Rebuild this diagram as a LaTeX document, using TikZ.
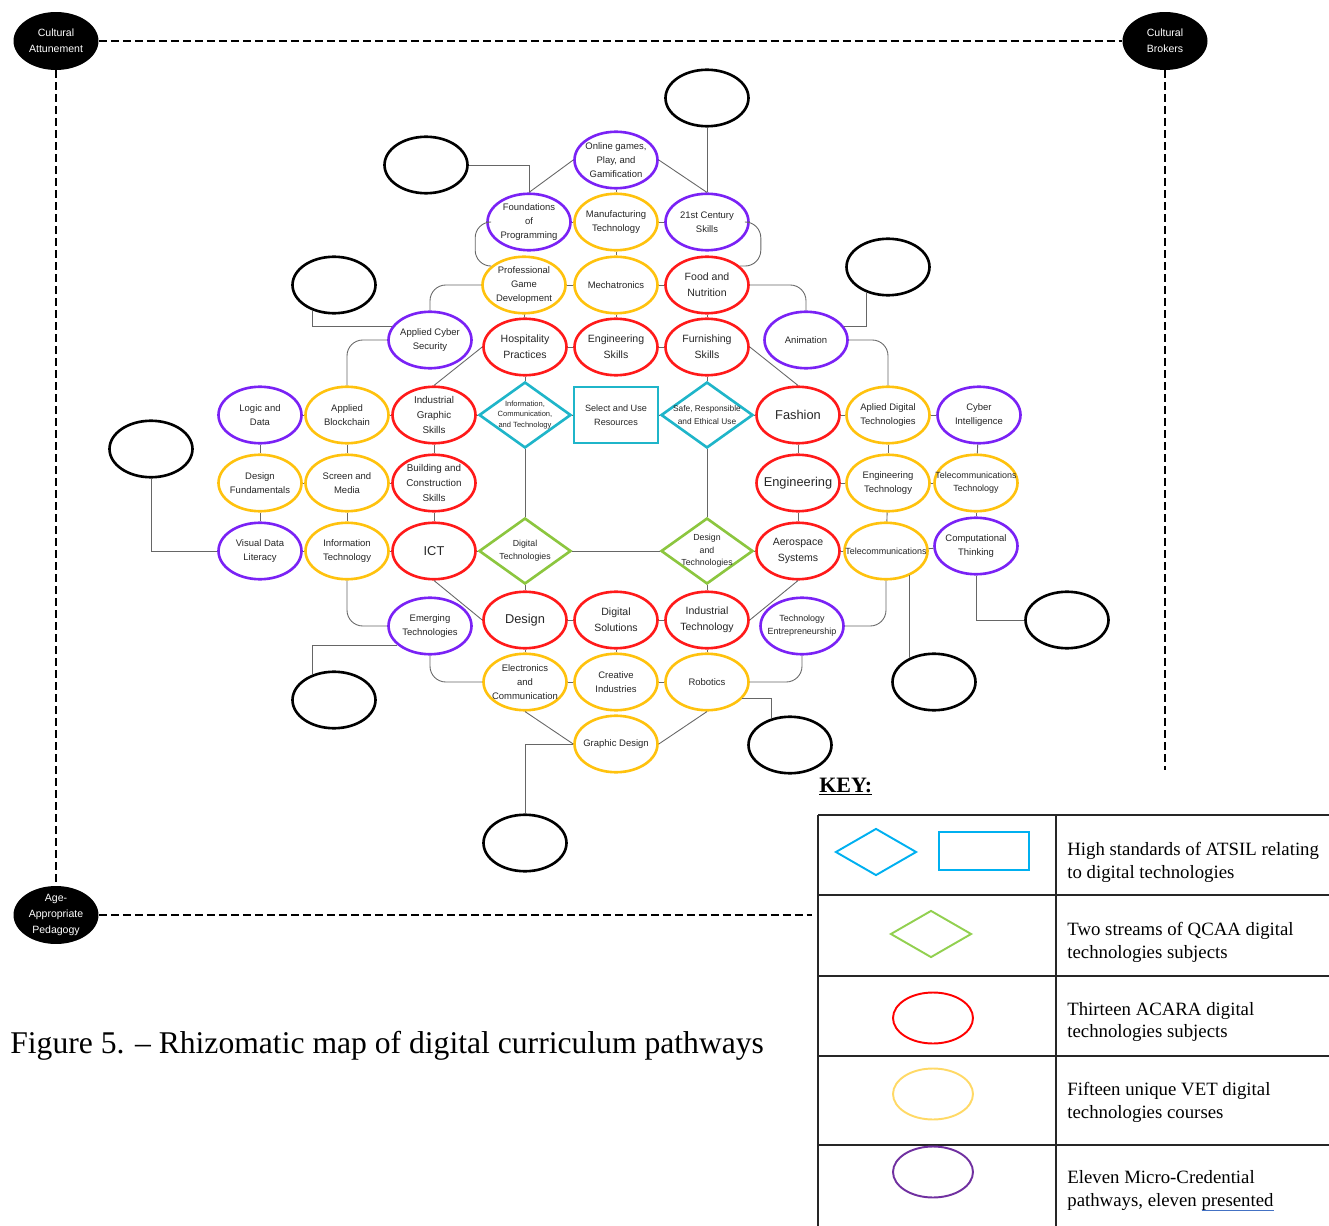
\documentclass[tikz,border=0pt]{standalone}
\usepackage{fontspec}
\setmainfont{Liberation Serif}
\setsansfont{Liberation Sans}
\usepackage{calc}
\usetikzlibrary{shapes.geometric}
\definecolor{acara}{HTML}{FF1A1A}
\definecolor{vet}{HTML}{FFC20E}
\definecolor{micro}{HTML}{7A22F5}
\definecolor{atsil}{HTML}{1FB5C9}
\definecolor{qcaa}{HTML}{8CC63F}
\definecolor{katsil}{HTML}{00B0F0}
\definecolor{kqcaa}{HTML}{92D050}
\definecolor{kacara}{HTML}{FF0000}
\definecolor{kvet}{HTML}{FFD966}
\definecolor{kmicro}{HTML}{7030A0}
\definecolor{ulblue}{HTML}{4472C4}

\begin{document}
\begin{tikzpicture}[x=0.02cm, y=-0.02cm,
	pw/.style={ellipse, draw=#1, line width=1.5pt, minimum width=1.66cm, minimum height=1.13cm, inner sep=-1cm, align=center, text=black!85, font=\sffamily\fontsize{5.4}{7.8}\selectfont},
	sj/.style={pw=acara, font=\sffamily\fontsize{6}{9}\selectfont},
	bigtxt/.style={font=\sffamily\fontsize{7.3}{9}\selectfont},
	smalltxt/.style={font=\sffamily\fontsize{5.1}{7.6}\selectfont},
	hub/.style={diamond, draw=#1, line width=1.5pt, minimum width=1.84cm, minimum height=1.32cm, inner sep=-1cm, align=center, text=black!85, font=\sffamily\fontsize{5}{7.2}\selectfont},
	blank/.style={pw=black},
	ink/.style={ellipse, fill=black, text=white, minimum width=1.7cm, minimum height=1.16cm, inner sep=-1cm, align=center, font=\sffamily\fontsize{6}{9}\selectfont},
	lk/.style={draw=black!60, line width=0.5pt},
	rlk/.style={lk, rounded corners=9pt},
	fence/.style={line width=1.1pt, dash pattern=on 0.16cm off 0.08cm},
	keyshape/.style={line width=1.1pt, inner sep=-1cm},
	keytxt/.style={anchor=west, inner sep=0pt, align=left, font=\fontsize{10.7}{13}\selectfont}]
	\useasboundingbox (0,0) rectangle (1329,1226);
	
	% frame
	\node[ink] (ca) at (56,41) {Cultural\\Attunement};
	\node[ink] (cb) at (1165,41) {Cultural\\Brokers};
	\node[ink] (app) at (56,915) {Age-\\Appropriate\\Pedagogy};
	\coordinate (cbend) at (1165,770);
	\coordinate (ppend) at (812,915);
	\draw[fence] (ca) -- (cb);
	\draw[fence] (ca) -- (app);
	\draw[fence] (app) -- (ppend);
	\draw[fence] (cb) -- (cbend);
	
	\node[pw=micro] (ogp) at (616,160) {Online games,\\Play, and\\Gamification};
	\node[pw=micro] (fop) at (529,222) {Foundations\\of\\Programming};
	\node[pw=vet] (mft) at (616,222) {Manufacturing\\Technology};
	\node[pw=micro] (c21) at (707,222) {21st Century\\Skills};
	\node[pw=vet] (pgd) at (524,285) {Professional\\Game\\Development};
	\node[pw=vet] (mech) at (616,285) {Mechatronics};
	\node[sj] (fn) at (707,285) {Food and\\Nutrition};
	\node[pw=micro] (acs) at (430,340) {Applied Cyber\\Security};
	\node[sj] (hp) at (525,347) {Hospitality\\Practices};
	\node[sj] (es) at (616,347) {Engineering\\Skills};
	\node[sj] (fs) at (707,347) {Furnishing\\Skills};
	\node[pw=micro] (anim) at (806,340) {Animation};
	
	\node[pw=micro] (lad) at (260,415) {Logic and\\Data};
	\node[pw=vet] (ab) at (347,415) {Applied\\Blockchain};
	\node[sj, font=\sffamily\fontsize{5.6}{8.5}\selectfont] (igs) at (434,415) {Industrial\\Graphic\\Skills};
	\node[hub=atsil, font=\sffamily\fontsize{4.3}{6.2}\selectfont] (ictd) at (525,415) {Information,\\Communication,\\and Technology};
	\node[draw=atsil, line width=1.5pt, minimum width=1.68cm, minimum height=1.12cm, inner sep=0pt, align=center, text=black!85, font=\sffamily\fontsize{5.2}{7.8}\selectfont] (sur) at (616,415) {Select and Use\\Resources};
	\node[hub=atsil, font=\sffamily\fontsize{4.75}{7.4}\selectfont] (srd) at (707,415) {Safe, Responsible\\and Ethical Use};
	\node[sj, bigtxt] (fash) at (798,415) {Fashion};
	\node[pw=vet] (adt) at (888,415) {Aplied Digital\\Technologies};
	\node[pw=micro] (cyi) at (979,415) {Cyber\\Intelligence};
	
	\node[pw=vet] (df) at (260,483) {Design\\Fundamentals};
	\node[pw=vet] (sm) at (347,483) {Screen and\\Media};
	\node[sj, font=\sffamily\fontsize{5.6}{8.5}\selectfont] (bcs) at (434,483) {Building and\\Construction\\Skills};
	\node[sj, bigtxt] (eng) at (798,483) {Engineering};
	\node[pw=vet] (engt) at (888,483) {Engineering\\Technology};
	\node[pw=vet, smalltxt] (tt) at (976,483) {Telecommunications\\Technology};
	
	\node[pw=micro] (vdl) at (260,551) {Visual Data\\Literacy};
	\node[pw=vet] (inft) at (347,551) {Information\\Technology};
	\node[sj, bigtxt] (ict) at (434,551) {ICT};
	\node[hub=qcaa] (dtd) at (525,551) {Digital\\Technologies};
	\node[hub=qcaa] (dnt) at (707,551) {Design\\and\\Technologies};
	\node[sj] (aero) at (798,551) {Aerospace\\Systems};
	\node[pw=vet, smalltxt] (tel) at (886,551) {Telecommunications};
	\node[pw=micro] (ct) at (976,546) {Computational\\Thinking};
	
	\node[pw=micro] (emt) at (430,626) {Emerging\\Technologies};
	\node[sj, bigtxt] (des) at (525,620) {Design};
	\node[sj] (ds) at (616,620) {Digital\\Solutions};
	\node[sj] (itch) at (707,620) {Industrial\\Technology};
	\node[pw=micro, smalltxt] (tent) at (802,626) {Technology\\Entrepreneurship};
	
	\node[pw=vet] (elec) at (525,682) {Electronics\\and\\Communication};
	\node[pw=vet] (cre) at (616,682) {Creative\\Industries};
	\node[pw=vet] (rob) at (707,682) {Robotics};
	\node[pw=vet] (gd) at (616,744) {Graphic Design};
	
	\foreach \n/\x/\y in {e1/707/98, e2/426/165, e3/334/285, e4/888/267, e5/151/449, e6/334/700, e7/934/682, e8/1067/620, e9/790/745, e10/525/843}
	{
		\node[blank] (\n) at (\x,\y) {};
	}
	
	\foreach \a/\b in {ogp/mft, fop/mft, mft/c21, mft/mech, pgd/mech, mech/fn, pgd/hp, mech/es, fn/fs, hp/es, es/fs, hp/ictd, fs/srd, ictd/sur, sur/srd, srd/fash, lad/ab, ab/igs, igs/ictd, fash/adt, adt/cyi, lad/df, ab/sm, igs/bcs, df/sm, sm/bcs, df/vdl, sm/inft, bcs/ict, vdl/inft, inft/ict, ict/dtd, fash/eng, adt/engt, cyi/tt, eng/engt, engt/tt, eng/aero, engt/tel, tt/ct, ictd/dtd, srd/dnt, dtd/dnt, dnt/aero, aero/tel, tel/ct, dtd/des, dnt/itch, des/ds, ds/itch, des/elec, ds/cre, itch/rob, elec/cre, cre/rob}
	{
		\draw[lk] (\a) -- (\b);
	}
	
	\draw[lk] (ogp.west) -- (fop.north);
	\draw[lk] (ogp.east) -- (c21.north);
	\draw[lk] (hp.west) -- (igs.north);
	\draw[lk] (fs.east) -- (fash.north);
	\draw[lk] (ict.south) -- (des.west);
	\draw[lk] (itch.east) -- (aero.south);
	\draw[lk] (elec.south) -- (gd.west);
	\draw[lk] (rob.south) -- (gd.east);
	\draw[rlk] (fop.west) -- ++(-11,0) |- (pgd.150);
	\draw[rlk] (c21.east) -- ++(11,0) |- (fn.30);
	\draw[rlk] (pgd.west) -| (acs.north);
	\draw[rlk] (fn.east) -| (anim.north);
	\draw[rlk] (acs.west) -| (ab.north);
	\draw[rlk] (anim.east) -| (adt.north);
	\draw[rlk] (inft.south) |- (emt.west);
	\draw[rlk] (tel.south) |- (tent.east);
	\draw[rlk] (elec.west) -| (emt.south);
	\draw[rlk] (rob.east) -| (tent.south);
	
	\draw[lk] (e1) -- (c21);
	\draw[lk] (e2.east) -| (fop.north);
	\draw[lk] (e3.230) |- (acs.160);
	\draw[lk] (e4.230) |- (anim.20);
	\draw[lk] (e5) |- (vdl);
	\draw[lk] (emt.210) -| (e6.130);
	\draw[lk] (e7.135) -- (e7.135 |- tel.-45);
	\draw[lk] (ct) |- (e8);
	\draw[lk] (rob.-25) -| (e9.125);
	\draw[lk] (gd.west) -| (e10);
	
	% key
	\node[anchor=base west, inner sep=0pt, font=\bfseries\fontsize{12.5}{14}\selectfont] (key) at (819,792) {\underline{KEY:}};
	\draw[black!85, line width=0.6pt] (818,815) -- (1329,815);
	\foreach \y in {895,976,1056,1145}
	{
		\draw[black!85, line width=0.6pt] (818,\y) -- (1329,\y);
	}
	\draw[black!85, line width=0.6pt] (818,815) -- (818,1226);
	\draw[black!85, line width=0.6pt] (1056,815) -- (1056,1226);
	
	\node[diamond, draw=katsil, keyshape, minimum width=1.62cm, minimum height=0.94cm] (kd1) at (876,852) {};
	\node[rectangle, draw=katsil, keyshape, minimum width=1.8cm, minimum height=0.76cm] (kr1) at (984,851) {};
	\node[diamond, draw=kqcaa, keyshape, minimum width=1.62cm, minimum height=0.94cm] (kd2) at (931,934) {};
	\node[ellipse, draw=kacara, keyshape, minimum width=1.6cm, minimum height=1.02cm] (ke3) at (933,1018) {};
	\node[ellipse, draw=kvet, keyshape, minimum width=1.6cm, minimum height=1.02cm] (ke4) at (933,1094) {};
	\node[ellipse, draw=kmicro, keyshape, minimum width=1.6cm, minimum height=1.02cm] (ke5) at (933,1172) {};
	
	\node[keytxt] (k1) at (1067,862) {High standards of ATSIL relating\\to digital technologies};
	\node[keytxt] (k2) at (1067,942) {Two streams of QCAA digital\\technologies subjects};
	\node[keytxt] (k3) at (1067,1022) {Thirteen ACARA digital\\technologies subjects};
	\node[keytxt] (k4) at (1067,1102) {Fifteen unique VET digital\\technologies courses};
	\node[keytxt] (k5) at (1067,1191) {Eleven Micro-Credential\\pathways, eleven \rlap{\textcolor{ulblue}{\rule[-2.6pt]{\widthof{presented}}{0.7pt}}}presented};
	
	\node[anchor=base west, inner sep=0pt, font=\fontsize{18}{21}\selectfont] (cap) at (10,1053) {Figure 5. – Rhizomatic map of digital curriculum pathways};
\end{tikzpicture}
\end{document}
